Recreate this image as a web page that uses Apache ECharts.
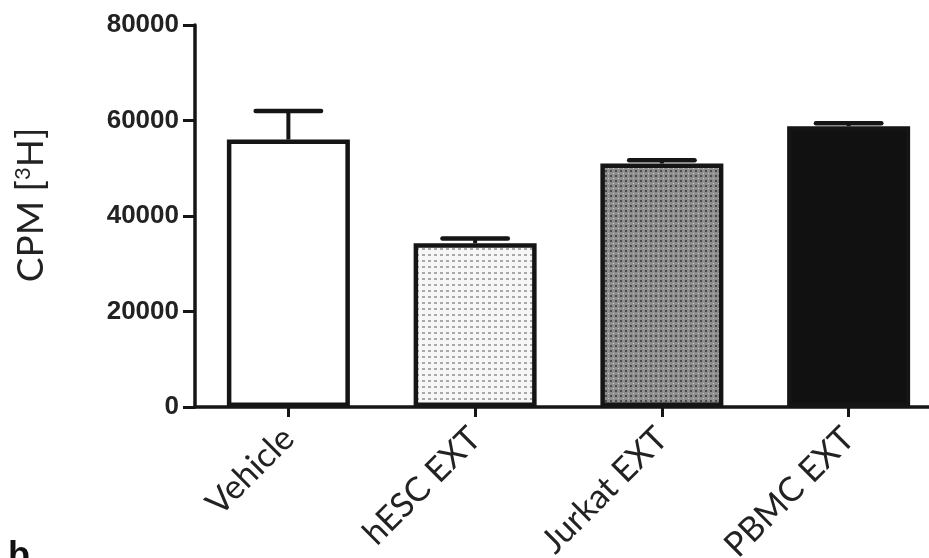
<!DOCTYPE html>
<html>
<head>
<meta charset="utf-8">
<script src="https://cdn.jsdelivr.net/npm/echarts@6/dist/echarts.min.js"></script>
<style>
  html, body { margin: 0; padding: 0; background: #ffffff; }
  #chart { width: 929px; height: 558px; }
</style>
</head>
<body>
<div id="chart"></div>
<script>
// Thymidine incorporation per treatment group
const categories = ['Vehicle', 'hESC EXT', 'Jurkat EXT', 'PBMC EXT'];
const cpmMean = [56000, 34300, 51000, 58800];
const cpmSem = [6000, 1000, 700, 600];
const yTickValues = [0, 20000, 40000, 60000, 80000];

const INK = '#151515';

// Small repeating fills for the textured bars
function makePattern(size, paint) {
  const c = document.createElement('canvas');
  c.width = size; c.height = size;
  const ctx = c.getContext('2d');
  paint(ctx);
  return { image: c, repeat: 'repeat' };
}
const dottedFill = makePattern(6, ctx => {
  ctx.fillStyle = '#f6f6f6'; ctx.fillRect(0, 0, 6, 6);
  ctx.fillStyle = '#a9a9a9'; ctx.fillRect(2, 2, 3, 2);
});
const checkerFill = makePattern(5, ctx => {
  ctx.fillStyle = '#8e8e8e'; ctx.fillRect(0, 0, 5, 5);
  ctx.fillStyle = '#4a4a4a'; ctx.fillRect(0, 0, 2, 2);
  ctx.fillStyle = '#cfcfcf'; ctx.fillRect(3, 3, 1, 1);
});
const barFills = ['#ffffff', dottedFill, checkerFill, '#111111'];

const chart = echarts.init(document.getElementById('chart'), null, { renderer: 'canvas' });

chart.setOption({
  animation: false,
  backgroundColor: '#ffffff',
  grid: {
    left: 195, top: 25, bottom: 151, width: 747,
    containLabel: false,
    outerBoundsMode: 'none'
  },
  xAxis: {
    type: 'category',
    data: categories,
    axisLine: { lineStyle: { color: INK, width: 3.5 } },
    axisTick: { show: true, alignWithLabel: true, length: 10, lineStyle: { color: INK, width: 3 } },
    axisLabel: {
      rotate: 45,
      margin: 26,
      color: '#222222',
      fontFamily: 'Lato, "Liberation Sans", sans-serif',
      fontSize: 34
    }
  },
  yAxis: {
    type: 'value',
    min: yTickValues[0],
    max: yTickValues[yTickValues.length - 1],
    interval: yTickValues[1] - yTickValues[0],
    name: 'CPM [{sup|3}H]',
    nameLocation: 'middle',
    nameRotate: 90,
    nameGap: 145,
    nameTextStyle: {
      color: '#222222',
      fontFamily: 'Lato, "Liberation Sans", sans-serif',
      fontSize: 37,
      padding: [0, 0, 0, 22],
      rich: {
        sup: {
          fontFamily: 'Lato, "Liberation Sans", sans-serif',
          fontSize: 22,
          verticalAlign: 'top',
          padding: [0, 0, 16, 0],
          color: '#222222'
        }
      }
    },
    splitLine: { show: false },
    axisLine: { show: true, lineStyle: { color: INK, width: 3.5 } },
    axisTick: { show: true, length: 12, lineStyle: { color: INK, width: 3 } },
    axisLabel: {
      margin: 16,
      color: '#222222',
      fontFamily: '"Liberation Sans", Arial, sans-serif',
      fontWeight: 'bold',
      fontSize: 26,
      formatter: v => String(v)
    }
  },
  series: [
    {
      type: 'bar',
      barWidth: 123,
      data: cpmMean.map((v, i) => ({
        value: v,
        itemStyle: { color: barFills[i], borderColor: INK, borderWidth: 4.5 }
      })),
      z: 2
    },
    {
      type: 'custom',
      z: 3,
      data: categories.map((c, i) => [i, cpmMean[i], cpmMean[i] + cpmSem[i]]),
      renderItem: function (params, api) {
        const base = api.coord([api.value(0), api.value(1)]);
        const top = api.coord([api.value(0), api.value(2)]);
        const half = api.size([1, 0])[0] * 0.175;
        return {
          type: 'group',
          children: [
            {
              type: 'line',
              shape: { x1: base[0], y1: base[1], x2: top[0], y2: top[1] },
              style: { stroke: INK, lineWidth: 4 }
            },
            {
              type: 'line',
              shape: { x1: top[0] - half, y1: top[1], x2: top[0] + half, y2: top[1] },
              style: { stroke: INK, lineWidth: 4.5, lineCap: 'round' }
            }
          ]
        };
      }
    }
  ],
  graphic: [
    {
      type: 'text',
      left: 8,
      top: 539,
      style: {
        text: 'b',
        fill: '#111111',
        font: 'bold 36px "Liberation Sans", Arial, sans-serif'
      }
    }
  ]
});
</script>
</body>
</html>
